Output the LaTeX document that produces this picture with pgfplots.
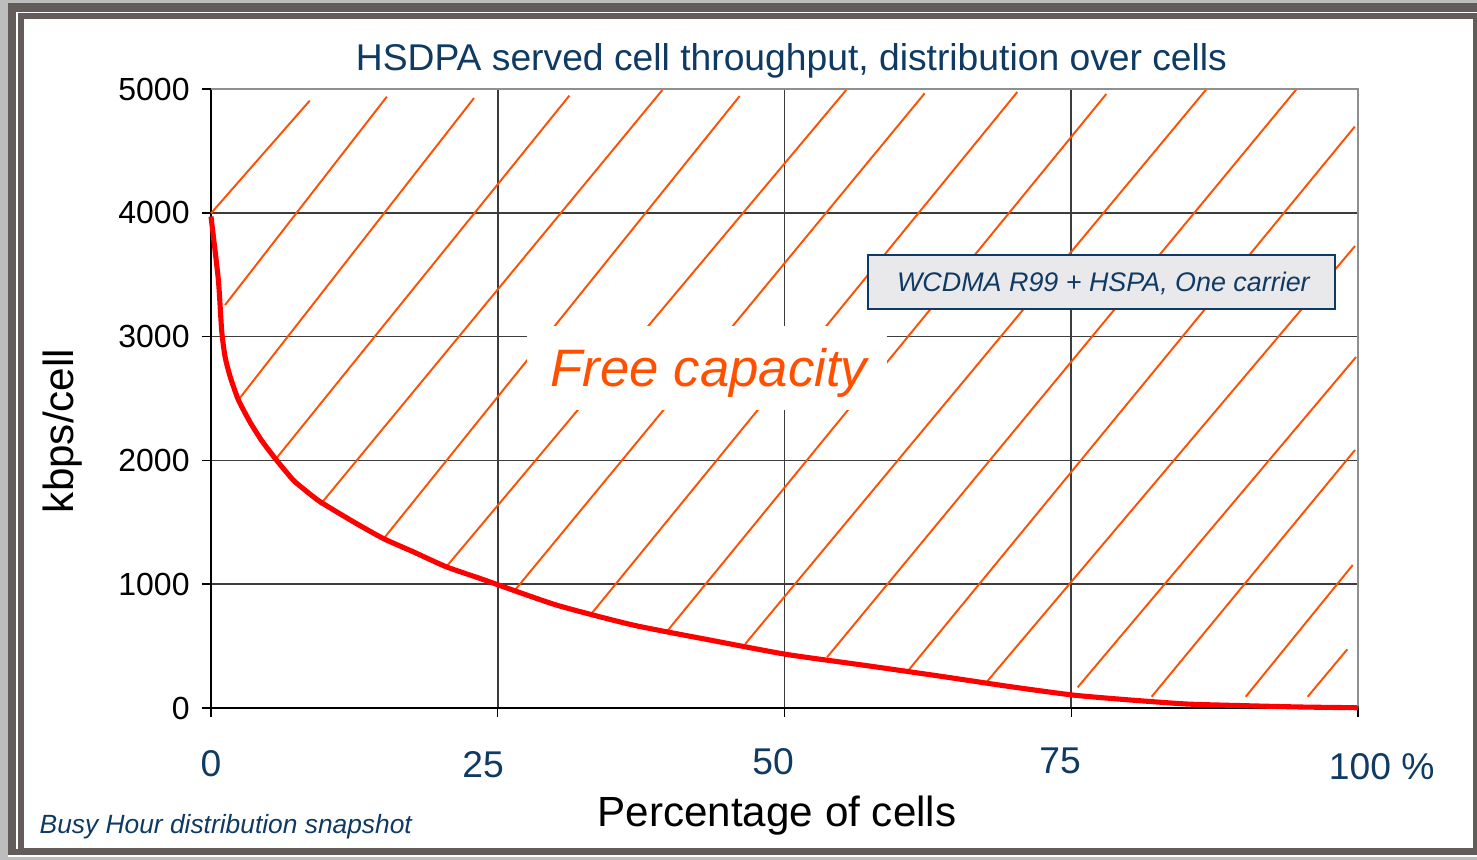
\documentclass[border=0pt]{standalone}
\usepackage{fontspec}
\setmainfont{Liberation Sans}
\usepackage{pgfplots}
\pgfplotsset{compat=1.18}

\definecolor{titleblue}{HTML}{0E3A63}
\definecolor{hatch}{HTML}{FF5000}
\definecolor{curvered}{HTML}{FF0000}
\definecolor{framedark}{HTML}{645B5B}
\definecolor{outergray}{HTML}{BDBDBD}
\definecolor{boxgray}{HTML}{E9E9EB}
\definecolor{gridgray}{HTML}{3C3C3C}
\definecolor{bordergray}{HTML}{8F8F8F}

\begin{document}
\begin{tikzpicture}
% frame (pixel coordinates of the reference, y down)
\begin{scope}[x=0.1mm,y=-0.1mm,shift={(-211,-708)}]
\fill[outergray] (0,0) rectangle (1477,860);
\fill[white] (8,3) rectangle (1477,857);
\fill[framedark] (8,3) rectangle (1477,855);
\fill[white] (16,11.7) rectangle (1477,849.5);
\fill[framedark] (18.3,13.3) rectangle (1477,849.5);
\fill[white] (24,19) rectangle (1472.7,848);
\end{scope}

\begin{axis}[
  scale only axis, width=114.7mm, height=61.9mm,
  at={(0,0)}, anchor=south west,
  xmin=0, xmax=100, ymin=0, ymax=5000,
  axis lines=left, axis line style={-,black,line width=0.4pt},
  xtick={0,25,50,75,100}, ytick={0,1000,2000,3000,4000,5000},
  xticklabels={},
  grid=major, major grid style={gridgray,line width=0.45pt},
  tick align=outside, major tick length=0.9mm,
  tick style={black,line width=0.4pt},
  yticklabel style={font=\fontsize{9.1}{10}\selectfont},
  /pgf/number format/1000 sep={},
  /pgf/number format/assume math mode=true,
  clip=false,
]
% hatching of the free capacity
\addplot[hatch, line width=0.55pt, mark=none] coordinates {(0,3996) (8.61,4906)};
\addplot[hatch, line width=0.55pt, mark=none] coordinates {(1.22,3255) (15.33,4938)};
\addplot[hatch, line width=0.55pt, mark=none] coordinates {(2.38,2488) (22.93,4927)};
\addplot[hatch, line width=0.55pt, mark=none] coordinates {(5.58,2003) (31.24,4946)};
\addplot[hatch, line width=0.55pt, mark=none] coordinates {(9.50,1640) (39.35,4992)};
\addplot[hatch, line width=0.55pt, mark=none] coordinates {(15.08,1371) (46.09,4943)};
\addplot[hatch, line width=0.55pt, mark=none] coordinates {(20.40,1128) (55.38,4992)};
\addplot[hatch, line width=0.55pt, mark=none] coordinates {(26.56,959) (62.22,4965)};
\addplot[hatch, line width=0.55pt, mark=none] coordinates {(33.13,757) (70.30,4976)};
\addplot[hatch, line width=0.55pt, mark=none] coordinates {(39.80,624) (78.06,4960)};
\addplot[hatch, line width=0.55pt, mark=none] coordinates {(46.57,517) (86.80,5000)};
\addplot[hatch, line width=0.55pt, mark=none] coordinates {(53.71,410) (94.65,5000)};
\addplot[hatch, line width=0.55pt, mark=none] coordinates {(60.59,280) (99.72,4696)};
\addplot[hatch, line width=0.55pt, mark=none] coordinates {(67.57,204) (99.74,3732)};
\addplot[hatch, line width=0.55pt, mark=none] coordinates {(75.56,167) (99.83,2835)};
\addplot[hatch, line width=0.55pt, mark=none] coordinates {(82.01,91) (99.74,2084)};
\addplot[hatch, line width=0.55pt, mark=none] coordinates {(90.21,91) (99.54,1155)};
\addplot[hatch, line width=0.55pt, mark=none] coordinates {(95.61,91) (99.07,474)};
% served throughput per cell
\addplot[curvered, line width=1.45pt, mark=none, line join=round, smooth, tension=0.35] coordinates {
(0,3970) (0.64,3460) (0.93,3050) (1.22,2840) (1.66,2680)
(2.38,2490) (3.4,2310) (4.42,2160) (5.73,2000) (7.18,1840) (8.2,1760)
(9.5,1667) (12.4,1505) (15,1370) (17.6,1263) (20.5,1141) (23.5,1045)
(30.1,832) (36.8,670) (43.5,549) (50.1,434) (56.8,347) (63.5,258)
(69.5,175) (75.1,105) (80.1,65) (85.1,32) (90,19) (95,8) (100,2)};
\end{axis}

% labels and boxes (pixel coordinates of the reference, y down)
\begin{scope}[x=0.1mm,y=-0.1mm,shift={(-211,-708)}]
\draw[bordergray, line width=0.55pt] (211,89) -- (1358,89) -- (1358,706);
\fill[white] (527,326) rectangle (887,410);
\node[anchor=base, inner sep=0, text=hatch, font=\fontsize{15}{18}\selectfont\itshape]
  at (709,387) {Free capacity};
\filldraw[fill=boxgray, draw=titleblue, line width=0.55pt] (868,255) rectangle (1335,309);
\node[anchor=base, inner sep=0, text=titleblue, font=\fontsize{7.65}{9}\selectfont\itshape]
  at (1103.4,291.7) {WCDMA R99 + HSPA, One carrier};
\node[anchor=base, inner sep=0, text=titleblue, font=\fontsize{10.6}{12}\selectfont]
  at (791.5,70.7) {HSDPA served cell throughput, distribution over cells};
\begin{scope}[every node/.style={anchor=base, inner sep=0, text=titleblue, font=\fontsize{10.6}{12}\selectfont}]
\node at (211,776.7) {0};
\node at (483,778) {25};
\node at (773,774.5) {50};
\node at (1060,773.3) {75};
\node at (1381.7,779.3) {100 \%};
\end{scope}
\node[anchor=base, inner sep=0, font=\fontsize{12}{14}\selectfont] at (777,827) {Percentage of cells};
\node[rotate=90, inner sep=0, font=\fontsize{12}{14}\selectfont] at (63,431) {kbps/cell};
\node[anchor=base west, inner sep=0, text=titleblue, font=\fontsize{7.5}{9}\selectfont\itshape]
  at (39,833.3) {Busy Hour distribution snapshot};
\end{scope}
\end{tikzpicture}
\end{document}
